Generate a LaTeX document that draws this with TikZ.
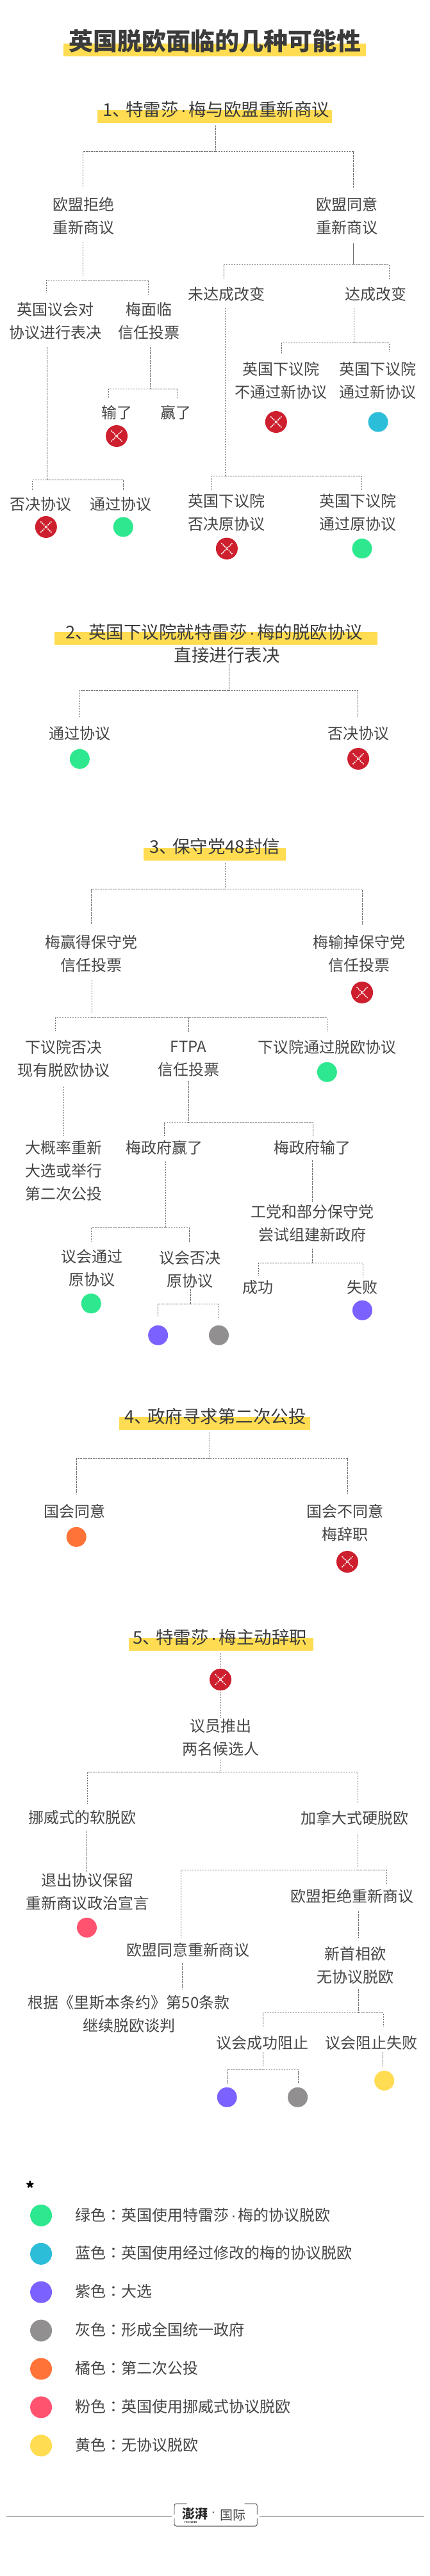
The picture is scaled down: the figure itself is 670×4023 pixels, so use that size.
\documentclass[tikz,border=0pt]{standalone}
\usepackage{fontspec}
\setmainfont{Noto Sans CJK SC}
\newfontfamily\cjktc{Noto Sans CJK TC}
\newfontfamily\latinf{Liberation Sans}
\newcommand{\mdot}{\kern.12em{\latinf ·}\kern.12em}
\newcommand{\pause}{、\kern-.25em}
\usetikzlibrary{positioning}
\definecolor{bandyellow}{HTML}{FFDC52}
\definecolor{nored}{HTML}{CD1F2D}
\definecolor{dgreen}{HTML}{2EE88F}
\definecolor{dblue}{HTML}{2CBDD9}
\definecolor{dpurple}{HTML}{7B61FF}
\definecolor{dgray}{HTML}{918F90}
\definecolor{dorange}{HTML}{FF7338}
\definecolor{dpink}{HTML}{FF5370}
\definecolor{txtgray}{HTML}{454545}
\definecolor{linegray}{HTML}{6E6E6E}

\begin{document}
\begin{tikzpicture}[x=0.995pt,y=-1pt]
\tikzstyle{t}=[font=\fontsize{24}{36}\selectfont,align=center,inner sep=0pt,text=txtgray]
\tikzstyle{hd}=[font=\fontsize{27.5}{36}\selectfont,align=center,inner sep=0pt,text=txtgray!85!black]
\tikzstyle{band}=[fill=bandyellow,inner sep=0pt,minimum height=20pt]
\tikzstyle{dot}=[circle,inner sep=0pt,minimum size=31pt]
\tikzstyle{key}=[circle,inner sep=0pt,minimum size=34pt]
\tikzstyle{no}=[circle,fill=nored,inner sep=0pt,minimum size=34pt,path picture={
\draw[white,line width=1.6pt,dash pattern=on 2pt off 1.2pt]
([xshift=8.5pt,yshift=-8.5pt]path picture bounding box.north west) -- ([xshift=-8.5pt,yshift=8.5pt]path picture bounding box.south east);
\draw[white,line width=1.6pt,dash pattern=on 2pt off 1.2pt]
([xshift=8.5pt,yshift=8.5pt]path picture bounding box.south west) -- ([xshift=-8.5pt,yshift=-8.5pt]path picture bounding box.north east);
}]
\tikzstyle{dl}=[draw=linegray,line width=0.8pt,dash pattern=on 2.5pt off 1.5pt]
\tikzstyle{sl}=[draw=linegray,line width=0.8pt]
\useasboundingbox (0pt,0pt) rectangle (670pt,-4023pt);

% title
\node[band,minimum width=471.8pt] (tband) at (336.8,78) {};
\node[inner sep=0pt,font=\fontsize{38}{44}\selectfont\bfseries,text=txtgray!85!black] (title) at (337.2,64) {英国脱欧面临的几种可能性};

% 1
\node[band,minimum width=365.8pt] (band1) at (336.8,182) {};
\node[hd] (h1) at (339,170.7) {1\pause 特雷莎\mdot 梅与欧盟重新商议};
\node[t] (rej) at (131,337.5) {欧盟拒绝\\重新商议};
\node[t] (agr) at (544.7,337.5) {欧盟同意\\重新商议};
\node[t] (vote) at (87.4,501) {英国议会对\\协议进行表决};
\node[t] (conf) at (234,501) {梅面临\\信任投票};
\node[t] (nochg) at (355,459.3) {未达成改变};
\node[t] (chg) at (589.4,459.3) {达成改变};
\node[t] (nonew) at (440.3,594.7) {英国下议院\\不通过新协议};
\node[t] (passnew) at (592,594.7) {英国下议院\\通过新协议};
\node[no] (xnonew) at (433,659) {};
\node[dot,fill=dblue] (dpassnew) at (593,659) {};
\node[t] (lost) at (183,644) {输了};
\node[t] (won) at (276.2,644) {赢了};
\node[no] (xlost) at (183,681) {};
\node[t] (vrej) at (63.6,787.3) {否决协议};
\node[t] (vpass) at (189.9,787.3) {通过协议};
\node[no] (xvrej) at (72.2,823) {};
\node[dot,fill=dgreen] (dvpass) at (193.3,823) {};
\node[t] (orej) at (355,800.7) {英国下议院\\否决原协议};
\node[t] (opass) at (561,800.7) {英国下议院\\通过原协议};
\node[no] (xorej) at (355.7,856.7) {};
\node[dot,fill=dgreen] (dopass) at (567.8,856.7) {};

\coordinate (j1) at (338.5,236.7);
\coordinate (j1l) at (129.7,236.7);
\coordinate (j1r) at (554,236.7);
\draw[dl,shorten <=4pt] (band1.south -| j1) -- (j1);
\draw[dl,shorten >=15pt] (j1) -- (j1l) -- (j1l |- rej.north);
\draw[dl,shorten >=15pt] (j1) -- (j1r) -- (j1r |- agr.north);

\coordinate (j2) at (129.7,437.3);
\coordinate (j2l) at (73,437.3);
\coordinate (j2r) at (233,437.3);
\draw[dl,shorten <=11pt,shorten >=6pt] (rej.south -| j2) -- (j2);
\draw[dl,shorten >=14pt] (j2) -- (j2l) -- (j2l |- vote.north);
\draw[dl,shorten >=12pt] (j2) -- (j2r) -- (j2r |- conf.north);

\coordinate (j3) at (554,413.7);
\coordinate (j3l) at (351.4,413.7);
\coordinate (j3r) at (610,413.7);
\draw[sl,shorten <=13pt,shorten >=2pt] (agr.south -| j3) -- (j3);
\draw[dl,shorten >=12pt] (j3) -- (j3l) -- (j3l |- nochg.north);
\draw[dl,shorten >=12pt] (j3) -- (j3r) -- (j3r |- chg.north);

\coordinate (j4) at (73.5,749.3);
\coordinate (j4l) at (50.7,749.3);
\coordinate (j4r) at (193.3,749.3);
\draw[dl,shorten <=12pt] (vote.south -| j4) -- (j4);
\draw[dl,shorten >=10pt] (j4) -- (j4l) -- (j4l |- vrej.north);
\draw[dl,shorten >=10pt] (j4) -- (j4r) -- (j4r |- vpass.north);

\coordinate (j5) at (235.4,607.3);
\coordinate (j5l) at (170.5,607.3);
\coordinate (j5r) at (279,607.3);
\draw[dl,shorten <=12pt] (conf.south -| j5) -- (j5);
\draw[dl,shorten >=10pt] (j5) -- (j5l) -- (j5l |- lost.north);
\draw[dl,shorten >=10pt] (j5) -- (j5r) -- (j5r |- won.north);

\coordinate (j6) at (353,743.7);
\coordinate (j6l) at (332,743.7);
\coordinate (j6r) at (567,743.7);
\draw[dl,shorten <=10pt] (nochg.south -| j6) -- (j6);
\draw[dl,shorten >=6pt] (j6) -- (j6l) -- (j6l |- orej.north);
\draw[dl,shorten >=6pt] (j6) -- (j6r) -- (j6r |- opass.north);

\coordinate (j7) at (555,535.3);
\coordinate (j7l) at (441.6,535.3);
\coordinate (j7r) at (610,535.3);
\draw[dl,shorten <=10pt] (chg.south -| j7) -- (j7);
\draw[dl,shorten >=13pt] (j7) -- (j7l) -- (j7l |- nonew.north);
\draw[dl,shorten >=15pt] (j7) -- (j7r) -- (j7r |- passnew.north);

% 2
\node[band,minimum width=503.8pt] (band2) at (338.7,997) {};
\node[hd] (h2) at (336,987.3) {2\pause 英国下议院就特雷莎\mdot 梅的脱欧协议};
\node[hd] (h2b) at (356,1023.3) {直接进行表决};
\node[t] (cpass) at (125,1145.7) {通过协议};
\node[t] (crej) at (561.9,1145.7) {否决协议};
\node[dot,fill=dgreen] (dcpass) at (125,1185.3) {};
\node[no] (xcrej) at (561.9,1185) {};

\coordinate (k1) at (358.7,1078.7);
\coordinate (k1l) at (124.6,1078.7);
\coordinate (k1r) at (561,1078.7);
\draw[dl,shorten <=1pt] (h2b.south -| k1) -- (k1);
\draw[dl,shorten >=13pt] (k1) -- (k1l) -- (k1l |- cpass.north);
\draw[dl,shorten >=13pt] (k1) -- (k1r) -- (k1r |- crej.north);

% 3
\node[band,minimum width=222.2pt] (band3) at (336.8,1334) {};
\node[hd] (h3) at (336.8,1321.7) {3\pause 保守党48封信};
\node[t] (mwin) at (143.5,1489.3) {梅赢得保守党\\信任投票};
\node[t] (mlose) at (563.7,1489.3) {梅输掉保守党\\信任投票};
\node[no] (xmlose) at (567.9,1550) {};
\node[t] (hrej) at (100.5,1653.3) {下议院否决\\现有脱欧协议};
\node[t] (ftpa) at (295.5,1653.3) {FTPA\\信任投票};
\node[t] (hpass) at (513.3,1635.3) {下议院通过脱欧协议};
\node[dot,fill=dgreen] (dhpass) at (512.9,1674.3) {};
\node[t] (gen) at (100.5,1828.7) {大概率重新\\大选或举行\\第二次公投};
\node[t] (gwin) at (257.3,1792.7) {梅政府赢了};
\node[t] (glose) at (490,1792.7) {梅政府输了};
\node[t] (ppass) at (143.9,1980.7) {议会通过\\原协议};
\node[t] (prej) at (297.7,1982) {议会否决\\原协议};
\node[dot,fill=dgreen] (dppass) at (143,2035.7) {};
\node[dot,fill=dpurple] (dprl) at (247.9,2085.3) {};
\node[dot,fill=dgray] (dprr) at (343.2,2085.3) {};
\node[t] (lab) at (489.7,1910.7) {工党和部分保守党\\尝试组建新政府};
\node[t] (succ) at (405,2010.7) {成功};
\node[t] (fail) at (568.7,2010.7) {失败};
\node[dot,fill=dpurple] (dfail) at (568.3,2046.3) {};

\coordinate (m1) at (352.7,1388.7);
\coordinate (m1l) at (143,1388.7);
\coordinate (m1r) at (568.3,1388.7);
\draw[dl,shorten <=3.7pt] (band3.south -| m1) -- (m1);
\draw[dl,shorten >=16pt] (m1) -- (m1l) -- (m1l |- mwin.north);
\draw[dl,shorten >=16pt] (m1) -- (m1r) -- (m1r |- mlose.north);

\coordinate (m2) at (143.9,1589.3);
\coordinate (m2l) at (87.2,1589.3);
\coordinate (m2m) at (295.5,1589.3);
\coordinate (m2r) at (512.5,1589.3);
\draw[dl,shorten <=12pt,shorten >=6.6pt] (mwin.south -| m2) -- (m2);
\draw[dl,shorten >=14pt] (m2) -- (m2l) -- (m2l |- hrej.north);
\draw[dl,shorten >=12pt] (m2m) -- (m2m |- ftpa.north);
\draw[dl,shorten >=12pt] (m2) -- (m2r) -- (m2r |- hpass.north);

\coordinate (m3) at (99.7,1700);
\draw[dl,shorten <=14pt,shorten >=7pt] (hrej.south -| m3) -- (m3 |- gen.north);

\coordinate (m4) at (295.5,1753.3);
\coordinate (m4l) at (258,1753.3);
\coordinate (m4r) at (490.5,1753.3);
\draw[dl,shorten <=7pt] (ftpa.south -| m4) -- (m4);
\draw[dl,shorten >=7pt] (m4) -- (m4l) -- (m4l |- gwin.north);
\draw[dl,shorten >=7pt] (m4) -- (m4r) -- (m4r |- glose.north);

\coordinate (m5) at (259.9,1917.3);
\coordinate (m5l) at (143.5,1917.3);
\coordinate (m5r) at (296.4,1917.3);
\draw[dl,shorten <=9.6pt,shorten >=1.6pt] (gwin.south -| m5) -- (m5);
\draw[dl,shorten >=12pt] (m5) -- (m5l) -- (m5l |- ppass.north);
\draw[dl,shorten >=13pt] (m5) -- (m5r) -- (m5r |- prej.north);

\coordinate (m6) at (299,2036.3);
\coordinate (m6l) at (247.9,2036.3);
\coordinate (m6r) at (343.6,2036.3);
\draw[dl,shorten <=2pt] (prej.south -| m6) -- (m6);
\draw[dl,shorten >=13pt] (m6) -- (m6l) -- (m6l |- dprl.north);
\draw[dl,shorten >=11.5pt] (m6) -- (m6r) -- (m6r |- dprr.north);

\coordinate (m7) at (490,1850);
\draw[dl,shorten <=8pt,shorten >=5pt] (glose.south -| m7) -- (m7 |- lab.north);

\coordinate (m8) at (490,1972.3);
\coordinate (m8l) at (405,1972.3);
\coordinate (m8r) at (569,1972.3);
\draw[dl,shorten <=10pt] (lab.south -| m8) -- (m8);
\draw[dl,shorten >=6pt] (m8) -- (m8l) -- (m8l |- succ.north);
\draw[dl,shorten >=5pt] (m8) -- (m8r) -- (m8r |- fail.north);

% 4
\node[band,minimum width=298.3pt] (band4) at (336.8,2223) {};
\node[hd] (h4) at (337.6,2211.7) {4\pause 政府寻求第二次公投};
\node[t] (ok) at (116.8,2360.7) {国会同意};
\node[t] (notok) at (541,2378.7) {国会不同意\\梅辞职};
\node[dot,fill=dorange] (dok) at (119.8,2400.3) {};
\node[no] (xnotok) at (544.7,2439) {};

\coordinate (p1) at (329.5,2277.7);
\coordinate (p1l) at (119.8,2277.7);
\coordinate (p1r) at (545,2277.7);
\draw[dl,shorten <=3.7pt] (band4.south -| p1) -- (p1);
\draw[dl,shorten >=16pt] (p1) -- (p1l) -- (p1l |- ok.north);
\draw[dl,shorten >=16pt] (p1) -- (p1r) -- (p1r |- notok.north);

% 5
\node[band,minimum width=288pt] (band5) at (346.6,2568) {};
\node[hd] (h5) at (345,2556.7) {5\pause 特雷莎\mdot 梅主动辞职};
\node[no] (xres) at (345.8,2623) {};
\node[t] (cand) at (345.8,2713.7) {议员推出\\两名候选人};
\node[t] (nor) at (129.3,2838.3) {挪威式的软脱欧};
\node[t] (can) at (556.7,2839.3) {加拿大式硬脱欧};
\node[t] (decl) at (137,2954.7) {退出协议保留\\重新商议政治宣言};
\node[dot,fill=dpink] (ddecl) at (136.2,3010.3) {};
\node[t] (eua) at (294.7,3045.7) {欧盟同意重新商议};
\node[t] (eur) at (552,2961.7) {欧盟拒绝重新商议};
\node[t] (lis) at (202.3,3145.7) {根据《里斯本条约》第50条款\\继续脱欧谈判};
\node[t] (nopm) at (556.9,3069.7) {新首相欲\\无协议脱欧};
\node[t] (stop) at (412,3190.7) {议会成功阻止};
\node[t] (nostop) at (582.5,3190.7) {议会阻止失败};
\node[dot,fill=dpurple] (dstopl) at (356,3275.3) {};
\node[dot,fill=dgray] (dstopr) at (466.9,3275.3) {};
\node[dot,fill=bandyellow] (dnostop) at (602.7,3249.3) {};

\draw[dl,shorten <=3.7pt] (band5.south -| xres) -- (xres);
\draw[dl,shorten <=1.7pt,shorten >=2pt] (xres.south) -- (xres.south |- cand.north);

\coordinate (q1) at (345.4,2767.3);
\coordinate (q1l) at (136.6,2767.3);
\coordinate (q1r) at (561,2767.3);
\draw[dl,shorten <=4.6pt] (cand.south -| q1) -- (q1);
\draw[dl,shorten >=11pt] (q1) -- (q1l) -- (q1l |- nor.north);
\draw[dl,shorten >=11pt] (q1) -- (q1r) -- (q1r |- can.north);

\coordinate (q2) at (136.2,2900);
\draw[dl,shorten <=10.7pt,shorten >=2pt] (nor.south -| q2) -- (q2 |- decl.north);

\coordinate (q3) at (561,2920.7);
\coordinate (q3l) at (283.5,2920.7);
\coordinate (q3r) at (606,2920.7);
\draw[dl,shorten <=14pt,shorten >=4pt] (can.south -| q3) -- (q3);
\draw[dl,shorten >=8pt] (q3) -- (q3l) -- (q3l |- eua.north);
\draw[dl,shorten >=8pt] (q3) -- (q3r) -- (q3r |- eur.north);

\coordinate (q4) at (286,3080);
\draw[dl,shorten <=9pt,shorten >=9pt] (eua.south -| q4) -- (q4 |- lis.north);

\coordinate (q5) at (562.3,3000);
\draw[dl,shorten <=12pt,shorten >=13pt] (eur.south -| q5) -- (q5 |- nopm.north);

\coordinate (q6) at (562.3,3143.3);
\coordinate (q6l) at (412.4,3143.3);
\coordinate (q6r) at (601,3143.3);
\draw[dl,shorten <=7pt] (nopm.south -| q6) -- (q6);
\draw[dl,shorten >=14pt] (q6) -- (q6l) -- (q6l |- stop.north);
\draw[dl,shorten >=14pt] (q6) -- (q6r) -- (q6r |- nostop.north);

\coordinate (q7) at (412.8,3232.3);
\coordinate (q7l) at (356.5,3232.3);
\coordinate (q7r) at (467.4,3232.3);
\draw[dl,shorten <=3pt,shorten >=5pt] (stop.south -| q7) -- (q7);
\draw[dl,shorten >=6pt] (q7) -- (q7l) -- (q7l |- dstopl.north);
\draw[dl,shorten >=6pt] (q7) -- (q7r) -- (q7r |- dstopr.north);

\coordinate (q8) at (600.5,3215);
\draw[dl,shorten <=3pt,shorten >=7pt] (nostop.south -| q8) -- (q8 |- dnostop.north);

% legend
\node[inner sep=0pt,font=\fontsize{26}{30}\selectfont\bfseries,text=black] (star) at (47.2,3417) {*};
\node[key,fill=dgreen] (key1) at (64.4,3459.9) {};
\node[key,fill=dblue] (key2) at (64.4,3519.8) {};
\node[key,fill=dpurple] (key3) at (64.4,3579.7) {};
\node[key,fill=dgray] (key4) at (64.4,3639.6) {};
\node[key,fill=dorange] (key5) at (64.4,3699.5) {};
\node[key,fill=dpink] (key6) at (64.4,3759.4) {};
\node[key,fill=bandyellow] (key7) at (64.4,3819.3) {};
\node[t,anchor=west] (txt1) at (118.1,3458.9) {绿色{\cjktc ：}英国使用特雷莎\mdot 梅的协议脱欧};
\node[t,anchor=west] (txt2) at (118.1,3518.8) {蓝色{\cjktc ：}英国使用经过修改的梅的协议脱欧};
\node[t,anchor=west] (txt3) at (118.1,3578.7) {紫色{\cjktc ：}大选};
\node[t,anchor=west] (txt4) at (118.1,3638.6) {灰色{\cjktc ：}形成全国统一政府};
\node[t,anchor=west] (txt5) at (118.1,3698.5) {橘色{\cjktc ：}第二次公投};
\node[t,anchor=west] (txt6) at (118.1,3758.4) {粉色{\cjktc ：}英国使用挪威式协议脱欧};
\node[t,anchor=west] (txt7) at (118.1,3818.3) {黄色{\cjktc ：}无协议脱欧};

% logo
\draw[txtgray,line width=0.9pt] (10.3,3929) -- (269.3,3929);
\draw[txtgray,line width=0.9pt] (407,3929) -- (665,3929);
\draw[txtgray,line width=0.9pt,rounded corners=3pt] (293.2,3910) -- (273.4,3910) -- (273.4,3927);
\draw[txtgray,line width=0.9pt,rounded corners=3pt] (383.6,3910) -- (403.3,3910) -- (403.3,3927);
\draw[txtgray,line width=0.9pt,rounded corners=3pt] (273.4,3933) -- (273.4,3945) -- (403.3,3945) -- (403.3,3933);
\node[inner sep=0pt,font=\fontsize{20}{24}\selectfont\bfseries,text=black!85] (logo) at (306.5,3925.7) {澎湃};
\node[inner sep=0pt,font=\fontsize{3.5}{4}\selectfont\bfseries,text=black!85] (paper) at (299,3939) {THE PAPER};
\node[inner sep=0pt,font=\latinf\fontsize{20}{24}\selectfont,text=txtgray] (logodot) at (334.7,3926) {·};
\node[inner sep=0pt,font=\fontsize{20}{24}\selectfont,text=txtgray] (logoint) at (365.8,3928) {国际};
\end{tikzpicture}
\end{document}
